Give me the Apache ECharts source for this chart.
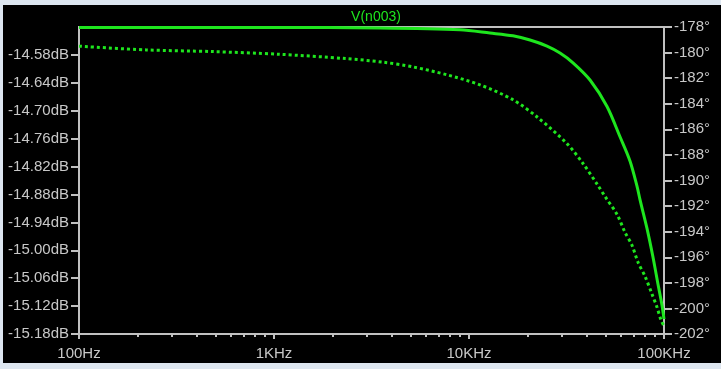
<!DOCTYPE html>
<html>
<head>
<meta charset="utf-8">
<script src="https://cdn.jsdelivr.net/npm/echarts@6/dist/echarts.min.js"></script>
<style>
	html, body { margin: 0; padding: 0; background: #dde6f0; }
	#frame { position: absolute; left: 3px; top: 5px; width: 718px; height: 358px; background: #000; }
	#chart { position: absolute; left: 0; top: 0; width: 721px; height: 369px; }
</style>
</head>
<body>
<div id="frame"></div>
<div id="chart"></div>
<script>
	// frequencies in Hz
	var freqMag = [100, 1000, 3497, 8992, 12814, 16811, 20551, 25119, 29286, 34145, 41743, 51028, 59487, 66920, 72690, 75318, 81800, 87830, 93160, 97660, 100000]
	var magDb = [-14.521, -14.521, -14.522, -14.526, -14.533, -14.539, -14.548, -14.561, -14.576, -14.597, -14.634, -14.691, -14.756, -14.808, -14.862, -14.891, -14.953, -15.015, -15.073, -15.118, -15.148]

	var freqPhase = [100, 221, 481, 1061, 2340, 3622, 5161, 7713, 11387, 16811, 22586, 31811, 38418, 45861, 49832, 57411, 63096, 68519, 73570, 79890, 86790, 92060, 96520, 100000]
	var phaseDeg = [-179.50, -179.79, -179.92, -180.13, -180.47, -180.75, -181.12, -181.74, -182.52, -183.69, -185.09, -187.12, -188.67, -190.39, -191.25, -192.65, -194.05, -195.06, -196.39, -197.48, -198.88, -199.90, -200.91, -201.38]

	// axis ticks
	var freqMajor = [100, 1000, 10000, 100000]
	var freqLabels = ['100Hz', '1KHz', '10KHz', '100KHz']
	var freqMinor = [200, 300, 400, 500, 600, 700, 800, 900, 2000, 3000, 4000, 5000, 6000, 7000, 8000, 9000, 20000, 30000, 40000, 50000, 60000, 70000, 80000, 90000]
	var magTicks = [-14.58, -14.64, -14.70, -14.76, -14.82, -14.88, -14.94, -15.00, -15.06, -15.12, -15.18]
	var phaseTicks = [-178, -180, -182, -184, -186, -188, -190, -192, -194, -196, -198, -200, -202]

	var green = '#1ee61e'
	var gray = '#c0c0c0'
	var textGray = '#c8c8c8'

	var magData = freqMag.map(function (f, i) { return [f, magDb[i]] })
	var phaseData = freqPhase.map(function (f, i) { return [f, phaseDeg[i]] })

	var dom = echarts.init(document.getElementById('chart'))
	var option = {
		backgroundColor: 'transparent',
		animation: false,
		textStyle: { fontFamily: 'Liberation Sans, Arial, sans-serif' },
		title: {
			text: 'V(n003)',
			left: 371,
			textAlign: 'center',
			top: 5,
			textStyle: { color: green, fontSize: 14, fontWeight: 'normal' }
		},
		grid: {
			left: 79,
			right: 57,
			top: 27,
			bottom: 35,
			show: true,
			borderColor: gray,
			borderWidth: 2,
			backgroundColor: 'transparent'
		},
		xAxis: [{
				type: 'log',
				logBase: 10,
				min: 100,
				max: 100000,
				position: 'bottom',
				axisLine: { show: true, lineStyle: { color: gray, width: 2 } },
				axisTick: {
					show: true,
					customValues: freqMajor,
					length: 5,
					lineStyle: { color: gray, width: 2 }
				},
				axisLabel: {
					customValues: freqMajor,
					color: textGray,
					fontSize: 15,
					margin: 12,
					formatter: function (v) {
						var i = freqMajor.indexOf(Math.round(v))
						return i >= 0 ? freqLabels[i] : ''
					}
				},
				splitLine: { show: false },
				minorTick: { show: false }
			},
			{
				type: 'log',
				logBase: 10,
				min: 100,
				max: 100000,
				position: 'bottom',
				axisLine: { show: false },
				axisTick: {
					show: true,
					customValues: freqMinor,
					length: 3,
					lineStyle: { color: gray, width: 2 }
				},
				axisLabel: { show: false },
				splitLine: { show: false }
			}
		],
		yAxis: [{
				type: 'value',
				min: -15.18,
				max: -14.52,
				position: 'left',
				axisLine: { show: true, lineStyle: { color: gray, width: 2 } },
				axisTick: {
					show: true,
					customValues: magTicks,
					length: 8,
					lineStyle: { color: gray, width: 2 }
				},
				axisLabel: {
					customValues: magTicks,
					color: textGray,
					fontSize: 15,
					margin: 10,
					formatter: function (v) { return v.toFixed(2) + 'dB' }
				},
				splitLine: { show: false }
			},
			{
				type: 'value',
				min: -202,
				max: -178,
				position: 'right',
				axisLine: { show: true, lineStyle: { color: gray, width: 2 } },
				axisTick: {
					show: true,
					customValues: phaseTicks,
					length: 8,
					lineStyle: { color: gray, width: 2 }
				},
				axisLabel: {
					customValues: phaseTicks,
					color: textGray,
					fontSize: 15,
					margin: 10,
					formatter: function (v) { return v + '°' }
				},
				splitLine: { show: false }
			}
		],
		series: [{
				name: 'mag',
				type: 'line',
				xAxisIndex: 0,
				yAxisIndex: 0,
				data: magData,
				smooth: 0.3,
				showSymbol: false,
				clip: false,
				lineStyle: { color: green, width: 3 }
			},
			{
				name: 'phase',
				type: 'line',
				xAxisIndex: 0,
				yAxisIndex: 1,
				data: phaseData,
				smooth: 0.3,
				showSymbol: false,
				clip: false,
				lineStyle: { color: green, width: 3, type: [3, 3], cap: 'butt' }
			}
		]
	}
	dom.setOption(option)
</script>
</body>
</html>
